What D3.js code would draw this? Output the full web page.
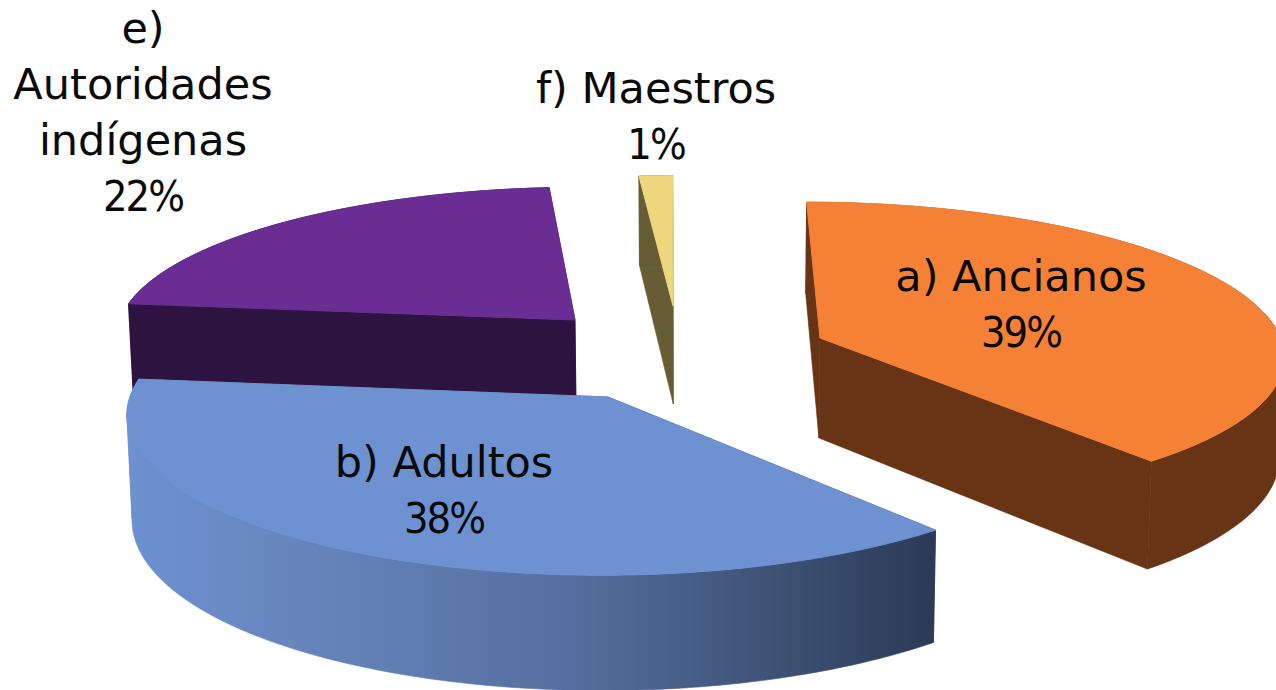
<!DOCTYPE html>
<html><head><meta charset="utf-8">
<script src="https://cdn.jsdelivr.net/npm/d3@7"></script>
<style>html,body{margin:0;padding:0;background:#fff;overflow:hidden}svg{display:block}text{font-family:"DejaVu Sans",sans-serif;fill:#0a0a0a}
.pct{font-stretch:condensed;letter-spacing:-2px}</style>
</head><body><svg id="c" width="1276" height="690"></svg>
<script>
// Data
const categories = ["a) Ancianos","b) Adultos","e) Autoridades indígenas","f) Maestros"];
const values = [38.9, 37.9, 21.9, 1.3];
const labelLines = [["a) Ancianos"],["b) Adultos"],["e)","Autoridades","indígenas"],["f) Maestros"]];
const topColors = ["#F58137","#6E91D1","#692D94","#EDD67B"];
const wallColors = ["#683416",null,"#2D1340","#675D35"];

// Layout: exploded-slice apexes on screen, camera parameters
const apexes = [[820,338],[608,397],[575,320],[673,306]];
const labelAnchors = [[1021,291],[444,477],[143,43],[656,103]];
const cam = {cx:668, cy:400, R:479, ry:161, p:0.10, h:104, vx:700, conv:0.009};
const startDeg = 0;
const lineH = 56, fontSize = 43;

const svg = d3.select("#c");
const defs = svg.append("defs");
const g = defs.append("linearGradient").attr("id","blueWall").attr("gradientUnits","userSpaceOnUse")
  .attr("x1",125).attr("x2",935).attr("y1",0).attr("y2",0);
[[0,"#6E91D1"],[0.25,"#6583B9"],[0.55,"#546F9F"],[0.8,"#3E5275"],[1,"#2B3A56"]].forEach(s=>g.append("stop").attr("offset",s[0]).attr("stop-color",s[1]));

const pie = d3.pie().sort(null).value(d=>d).startAngle(startDeg*Math.PI/180).endAngle((startDeg+360)*Math.PI/180);
const arcs = pie(values);

function project(X,Y,Z){
  const w = 1 - cam.p*Y;
  const sx = cam.cx + cam.R*X/w;
  return [cam.vx + (sx-cam.vx)*(1+cam.conv*Z), cam.cy + cam.ry*Y/w - cam.h*Z/w];
}
function worldOf(a){
  const v = (a[1]-cam.cy)/cam.ry;
  const Y = v/(1+cam.p*v);
  const X = (a[0]-cam.cx)/cam.R*(1-cam.p*Y);
  return [X,Y];
}
const line = d3.line().curve(d3.curveLinear);
const closed = pts => line(pts)+"Z";

const order = [0,2,3,1];
order.forEach(i=>{
  const d = arcs[i];
  const [ox,oy] = worldOf(apexes[i]);
  const angle = d3.scaleLinear().domain([0,1]).range([d.startAngle,d.endAngle]);
  const ts = d3.range(0,1.0001,1/120);
  const P = (t,z)=>{const a=angle(t);return project(ox+Math.sin(a),oy-Math.cos(a),z);};
  const A = z=>project(ox,oy,z);
  const wall = wallColors[i] || "url(#blueWall)";
  const layer = svg.append("g").attr("class","slice").attr("data-cat",categories[i]);
  [0,1].forEach(t=>{
    const col = wallColors[i]||"#2B3A56";
    layer.append("path").attr("d",closed([A(0),P(t,0),P(t,-1),A(-1)])).attr("fill",col).attr("stroke",col).attr("stroke-width",0.6);
  });
  // outer wall: split into runs that are monotonic in x so the strip never folds over itself
  const runs = []; let cur = [ts[0]], dir = 0;
  for (let k=1;k<ts.length;k++){
    const dx = P(ts[k],0)[0]-P(ts[k-1],0)[0], s = Math.sign(dx);
    if (dir && s && s!==dir){ runs.push(cur); cur=[ts[k-1]]; }
    if (s) dir = s;
    cur.push(ts[k]);
  }
  runs.push(cur);
  runs.forEach(r=>{
    const outer = r.map(t=>P(t,0)).concat(r.slice().reverse().map(t=>P(t,-1)));
    layer.append("path").attr("d",closed(outer)).attr("fill",wall).attr("stroke",wall).attr("stroke-width",0.6);
  });
  layer.append("path").attr("d",closed([A(0)].concat(ts.map(t=>P(t,0))))).attr("fill",topColors[i]).attr("stroke",topColors[i]).attr("stroke-width",1);
});

labelLines.forEach((ls,i)=>{
  const t = svg.append("text").attr("text-anchor","middle").attr("font-size",fontSize);
  ls.forEach((s,k)=>t.append("tspan").attr("x",labelAnchors[i][0]).attr("y",labelAnchors[i][1]+k*lineH).text(s));
  t.append("tspan").attr("class","pct").attr("x",labelAnchors[i][0]).attr("y",labelAnchors[i][1]+ls.length*lineH)
    .text(d3.format(".0f")(values[i])+"%");
});
</script></body></html>
